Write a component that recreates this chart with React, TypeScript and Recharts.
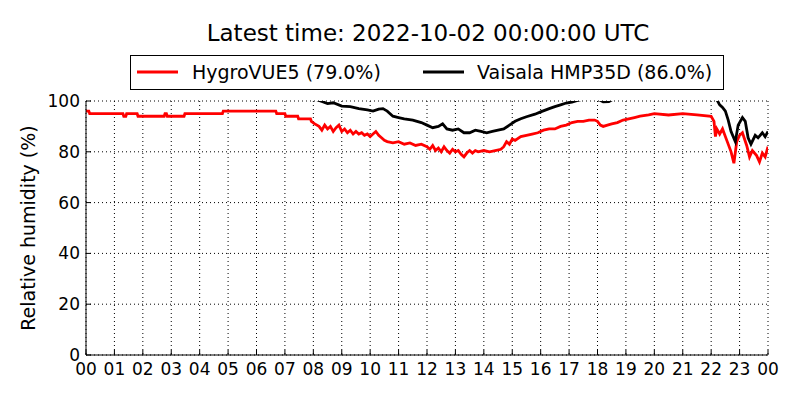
import { LineChart, Line, XAxis, YAxis, CartesianGrid, Legend } from 'recharts';

// time of day in hours (UTC) and relative humidity in %
const redHours = [
  0, 0.1, 0.13, 1.3, 1.33, 1.4, 1.43, 1.8, 1.83, 2.75, 2.78, 2.83, 2.86, 3.45, 3.48, 4.8, 4.83,
  6.68, 6.71, 7.0, 7.03, 7.45, 7.48, 7.9, 7.93, 8.05, 8.2, 8.3, 8.4, 8.5, 8.6, 8.7, 8.8, 8.9,
  9.0, 9.1, 9.2, 9.3, 9.4, 9.5, 9.6, 9.7, 9.8, 9.9, 10.0, 10.1, 10.2, 10.3, 10.4, 10.5, 10.6,
  10.8, 11.0, 11.2, 11.4, 11.6, 11.8, 12.0, 12.1, 12.2, 12.3, 12.4, 12.5, 12.6, 12.7, 12.8,
  12.9, 13.0, 13.1, 13.2, 13.3, 13.4, 13.5, 13.6, 13.7, 13.8, 14.0, 14.2, 14.4, 14.6, 14.7,
  14.8, 14.9, 15.0, 15.1, 15.3, 15.5, 15.7, 15.9, 16.1, 16.3, 16.5, 16.7, 16.9, 17.1, 17.3,
  17.5, 17.7, 17.9, 18.0, 18.1, 18.2, 18.35, 18.5, 18.7, 18.9, 19.1, 19.3, 19.5, 19.8, 20.0,
  20.5, 21.0, 21.5, 22.0, 22.1, 22.15, 22.2, 22.3, 22.4, 22.55, 22.7, 22.8, 22.9, 23.0, 23.1,
  23.25, 23.35, 23.45, 23.6, 23.7, 23.8, 23.9, 24.0,
];
const redValues = [
  96, 96, 95, 95, 94, 94, 95, 95, 94, 94, 95, 95, 94, 94, 95, 95, 96,
  96, 95, 95, 94, 94, 93, 93, 92, 91, 90, 88.5, 90.5, 89, 90, 88, 89.5, 90.5,
  88, 89, 87.5, 88.5, 87, 88, 87, 87.5, 86.5, 87, 86, 87, 88, 86.5, 85.5, 84.5, 84,
  83.5, 84, 83, 83.5, 82.5, 83, 82, 81, 82.5, 80.5, 81.5, 80, 82, 80.5, 79.5,
  81, 80, 80.5, 79, 78, 79.5, 80.5, 79.5, 80.5, 80, 80.5, 80, 80.5, 81, 82,
  84, 83, 85, 84.5, 86, 86.5, 87, 87.5, 88.5, 89, 89, 90, 90.5, 91.5, 92,
  92, 92.5, 92.5, 92, 90.5, 90, 90.5, 91, 91.5, 92.5, 93, 93.5, 94, 94.5, 95,
  94.5, 95, 94.5, 94, 92, 86, 89, 87, 89, 84.5, 80, 75.5, 84, 86.5, 87.5,
  82.5, 78, 80.5, 78.5, 76, 79.5, 78, 82,
];

const blackHours = [
  0, 8.0, 8.3, 8.5, 8.7, 9.0, 9.3, 9.6, 9.9, 10.1, 10.3, 10.45, 10.6, 10.8, 11.0, 11.2, 11.5,
  11.8, 12.0, 12.2, 12.4, 12.55, 12.7, 12.9, 13.1, 13.3, 13.5, 13.7, 13.9, 14.1, 14.3, 14.5,
  14.7, 14.9, 15.1, 15.3, 15.5, 15.8, 16.0, 16.3, 16.5, 16.7, 16.9, 17.1, 17.3, 17.6, 18.0,
  18.2, 18.4, 18.6, 19.0, 20.0, 22.0, 22.2, 22.3, 22.4, 22.5, 22.6, 22.7, 22.85, 22.95, 23.1,
  23.2, 23.3, 23.4, 23.55, 23.65, 23.8, 23.9, 24.0,
];
const blackValues = [
  103, 101, 99.8, 99, 99.3, 98, 97.8, 97, 96.5, 96, 96.8, 97, 96, 94, 93.5, 93, 92.5,
  91.5, 90.5, 89.5, 90, 91, 89, 88.5, 89, 87.5, 87.5, 88.5, 88, 87.5, 88, 88.5,
  89, 90.5, 92, 93, 93.8, 94.8, 95.7, 97, 97.8, 98.5, 99.2, 99.6, 100.2, 101, 100.8,
  99.7, 99.8, 101, 102, 103, 102, 100.5, 98.5, 97.5, 96, 92.5, 88, 84, 90.5, 93.5,
  92, 85.5, 83, 86.5, 85.5, 87.5, 86, 88,
];

const hourTicks = Array.from({ length: 25 }, (_, i) => i);
const rhTicks = [0, 20, 40, 60, 80, 100];

const redData = redHours.map((h, i) => ({ h, v: redValues[i] }));
const blackData = blackHours.map((h, i) => ({ h, v: blackValues[i] }));

const font = '"DejaVu Sans", sans-serif';

const legendText = { position: 'absolute' as const, top: 5, fontSize: 19, lineHeight: '23px', whiteSpace: 'nowrap' as const };

const renderLegend = () => (
  <div
    style={{
      position: 'relative',
      boxSizing: 'border-box',
      border: '1.5px solid #000',
      height: 35,
      width: 594,
      fontFamily: font,
      color: '#000',
      background: '#fff',
    }}
  >
    <svg width={50} height={10} style={{ position: 'absolute', left: 5, top: 11 }}>
      <line x1={1} y1={5} x2={42} y2={5} stroke="#ff0000" strokeWidth={3} />
    </svg>
    <span style={{ ...legendText, left: 61 }}>HygroVUE5 (79.0%)</span>
    <svg width={50} height={10} style={{ position: 'absolute', left: 291, top: 11 }}>
      <line x1={1} y1={5} x2={42} y2={5} stroke="#000" strokeWidth={3} />
    </svg>
    <span style={{ ...legendText, left: 346 }}>Vaisala HMP35D (86.0%)</span>
  </div>
);

export default function App() {
  return (
    <div style={{ position: 'relative', width: 800, height: 400, margin: -8, background: '#fff', fontFamily: font }}>
      <div
        style={{
          position: 'absolute',
          top: 20,
          left: 0,
          width: 856,
          textAlign: 'center',
          fontSize: 23,
          lineHeight: '27px',
          color: '#000',
        }}
      >
        Latest time: 2022-10-02 00:00:00 UTC
      </div>
      <LineChart width={800} height={400} margin={{ top: 66, right: 32, bottom: 15, left: 26 }}>
        <CartesianGrid stroke="#000" strokeDasharray="1 3" strokeWidth={1} />
        <XAxis
          dataKey="h"
          type="number"
          domain={[0, 24]}
          ticks={hourTicks}
          interval={0}
          allowDataOverflow
          tickFormatter={(h: number) => String(h % 24).padStart(2, '0')}
          tick={{ fill: '#000', fontSize: 17, fontFamily: font }}
          axisLine={{ stroke: '#000' }}
          tickLine={{ stroke: '#000' }}
          tickSize={-5}
          tickMargin={13}
          height={30}
        />
        <XAxis
          xAxisId="top"
          orientation="top"
          dataKey="h"
          type="number"
          domain={[0, 24]}
          ticks={hourTicks}
          interval={0}
          tick={false}
          axisLine={{ stroke: '#000' }}
          tickLine={{ stroke: '#000' }}
          tickSize={-5}
          height={0}
        />
        <YAxis
          type="number"
          domain={[0, 100]}
          ticks={rhTicks}
          interval={0}
          allowDataOverflow
          tick={{ fill: '#000', fontSize: 17, fontFamily: font }}
          axisLine={{ stroke: '#000' }}
          tickLine={{ stroke: '#000' }}
          tickSize={-5}
          tickMargin={11}
          width={60}
          label={{
            value: 'Relative humidity (%)',
            angle: -90,
            position: 'insideLeft',
            offset: 2,
            style: { textAnchor: 'middle', fill: '#000', fontSize: 19, fontFamily: font },
          }}
        />
        <YAxis
          yAxisId="right"
          orientation="right"
          type="number"
          domain={[0, 100]}
          ticks={rhTicks}
          interval={0}
          tick={false}
          axisLine={{ stroke: '#000' }}
          tickLine={{ stroke: '#000' }}
          tickSize={-5}
          width={0}
        />
        <Legend
          verticalAlign="top"
          height={35}
          content={renderLegend}
          wrapperStyle={{ top: 55, left: 130, width: 594 }}
        />
        <Line
          data={redData}
          dataKey="v"
          name="HygroVUE5"
          stroke="#ff0000"
          strokeWidth={2.8}
          dot={false}
          type="linear"
          isAnimationActive={false}
        />
        <Line
          data={blackData}
          dataKey="v"
          name="Vaisala HMP35D"
          stroke="#000"
          strokeWidth={2.8}
          dot={false}
          type="linear"
          isAnimationActive={false}
        />
      </LineChart>
    </div>
  );
}
